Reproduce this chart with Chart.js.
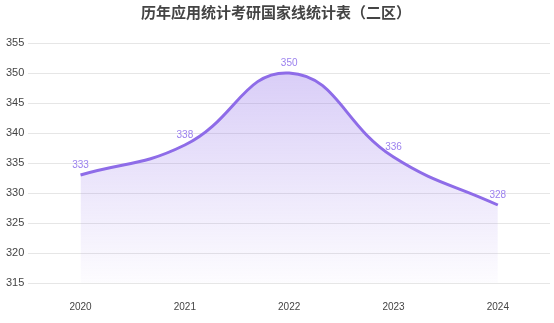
<!DOCTYPE html>
<html>
<head>
<meta charset="utf-8">
<script src="https://cdn.jsdelivr.net/npm/chart.js@4"></script>
<style>
  html, body { margin: 0; padding: 0; background: #fff; }
  #wrap { width: 554px; height: 323px; }
</style>
</head>
<body>
<div id="wrap"><canvas id="lineChart"></canvas></div>
<script>
// 历年国家线（二区）
const years  = ['2020', '2021', '2022', '2023', '2024'];
const scores = [333, 338, 350, 336, 328];
const yTicks = [315, 320, 325, 330, 335, 340, 345, 350, 355];

const purple = '#8e6ce8';

// writes each score just above its point
const valueLabels = {
  id: 'valueLabels',
  afterDatasetsDraw(chart) {
    const ctx = chart.ctx;
    const meta = chart.getDatasetMeta(0);
    ctx.save();
    ctx.font = '10px "Liberation Sans", Arial, sans-serif';
    ctx.fillStyle = '#9b80ee';
    ctx.textAlign = 'center';
    ctx.textBaseline = 'bottom';
    meta.data.forEach((pt, i) => {
      ctx.fillText(scores[i], pt.x, pt.y - 5);
    });
    ctx.restore();
  }
};

const ctx = document.getElementById('lineChart').getContext('2d');
const chart = new Chart(ctx, {
  type: 'line',
  data: {
    labels: years,
    datasets: [{
      data: scores,
      borderColor: purple,
      borderWidth: 3,
      tension: 0.45,
      pointRadius: 0,
      fill: 'start',
      backgroundColor: (c) => {
        const area = c.chart.chartArea;
        if (!area) return 'rgba(142,108,232,0.2)';
        const g = c.chart.ctx.createLinearGradient(0, area.top, 0, area.bottom);
        g.addColorStop(0, 'rgba(142,108,232,0.38)');
        g.addColorStop(1, 'rgba(142,108,232,0.02)');
        return g;
      }
    }]
  },
  options: {
    responsive: true,
    maintainAspectRatio: false,
    animation: false,
    layout: { padding: { left: 2, right: 4, top: 0, bottom: 0 } },
    plugins: {
      legend: { display: false },
      tooltip: { enabled: false },
      title: {
        display: true,
        text: '历年应用统计考研国家线统计表（二区）',
        color: '#444',
        font: { family: '"Noto Sans CJK SC", sans-serif', size: 15, weight: 'bold' },
        padding: { top: 3, bottom: 22 }
      }
    },
    scales: {
      x: {
        offset: true,
        grid: { display: false },
        border: { display: false },
        ticks: {
          color: '#444',
          font: { family: '"Liberation Sans", Arial, sans-serif', size: 10 },
          padding: 10
        }
      },
      y: {
        min: 315,
        max: 355,
        afterBuildTicks: (axis) => { axis.ticks = yTicks.map(v => ({ value: v })); },
        grid: { color: '#e6e6e6', drawTicks: false },
        border: { display: false },
        ticks: {
          color: '#444',
          font: { family: '"Liberation Sans", Arial, sans-serif', size: 11 },
          padding: 4
        }
      }
    }
  },
  plugins: [valueLabels]
});
</script>
</body>
</html>
